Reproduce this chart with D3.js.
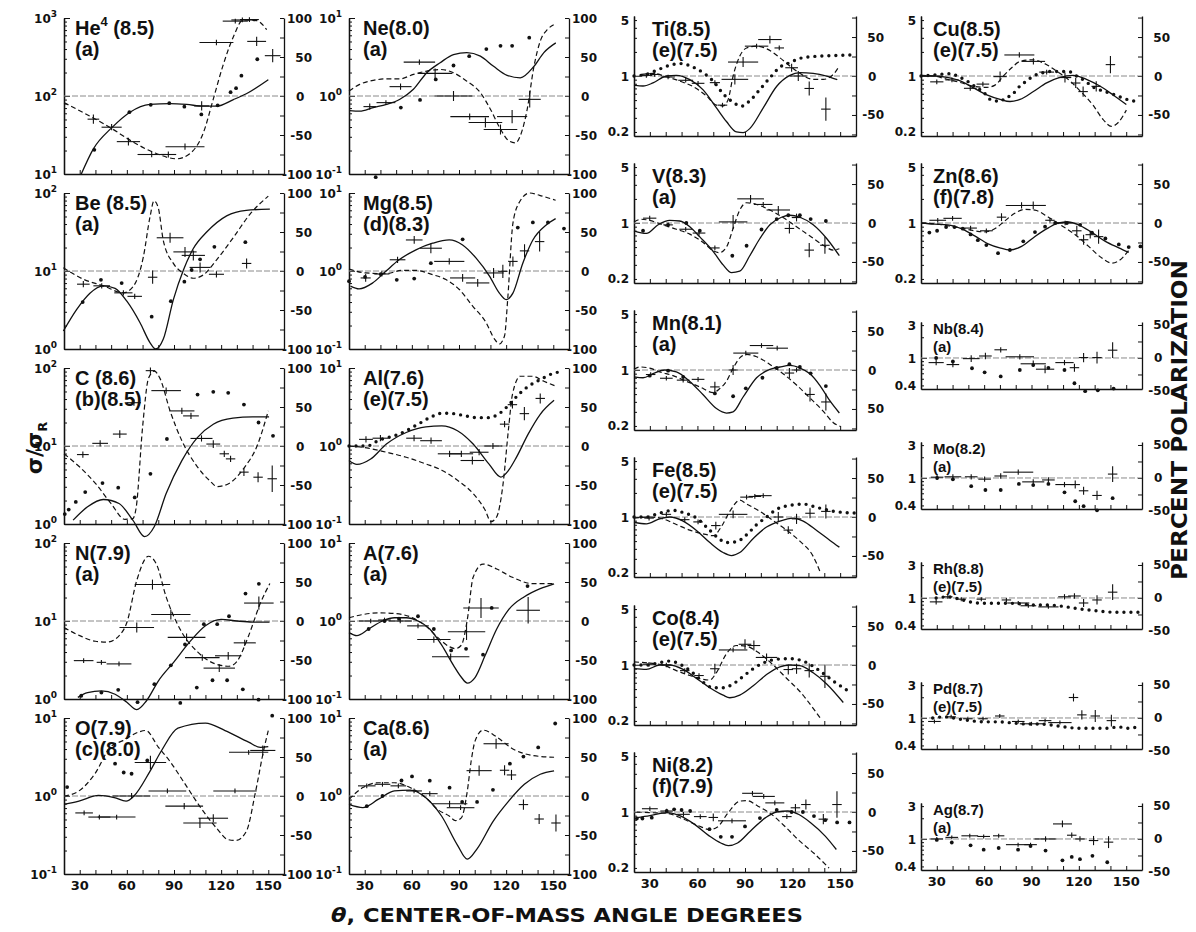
<!DOCTYPE html>
<html>
<head>
<meta charset="utf-8">
<script src="https://cdn.jsdelivr.net/npm/d3@7"></script>
<style>
  body { margin: 0; background: #fff; }
  svg { display: block; }
  text { font-family: "DejaVu Sans", sans-serif; font-weight: bold; fill: #111; }
  .lab { font-family: "Liberation Sans", Arial, sans-serif; }
</style>
</head>
<body>
<script>
// ---- tick labels ----
const angleTicks = [30, 40, 50, 60, 70, 80, 90, 100, 110, 120, 130, 140, 150];
const angleLabels = [30, 60, 90, 120, 150];
const polLabelsWide = ['100', '50', '0', '-50', '-100'];
const polValuesWide = [100, 50, 0, -50, -100];
const polLabelsBig = ['50', '0', '-50'];
const polValuesBig = [50, 0, -50];
const polTicksWide = [-100, -75, -50, -25, 0, 25, 50, 75, 100];
const polTicksBig = [-75, -50, -25, 0, 25, 50, 75];
const polTicksSmall = [-25, 0, 25, 50];
const sigmaLabelsBig = ['5', '1', '0.2'];
const sigmaValuesBig = [5, 1, 0.2];
const sigmaLabelsSmall = ['3', '1', '0.4'];
const sigmaValuesSmall = [3, 1, 0.4];

// ---- data: [angle, sigma/sigmaR] for curves & dots, [angle, P, halfwidth, error] for polarization ----
// He4
const heSolid = [[31,10],[38.7,21],[50.3,39],[62,62],[74.7,78],[87.5,80],[98,78],[108.7,74],[117,74],[127.8,90],[136,107],[150,162]];
const heDashed = [[20,-8.5],[32,-21],[49,-40],[64,-59],[79,-74],[91.7,-80.5],[100,-74],[108.7,-47],[115,-4],[121,38],[127.8,76],[134,97.5],[142.6,96.6],[149,85]];
const heDots = [[39.3,20.4],[61.6,62],[75.2,77],[87,81],[96.6,73],[107.4,58],[117.8,76],[126,112],[129.5,126],[132.9,182],[143,296]];
const hePol = [[38.7,-29.7,3.7,6],[50.3,-40,6.4,4],[61,-58.5,7.4,5],[75.8,-75,9,3.4],[86.4,-75,5,4],[97,-65,12.4,4],[107.6,-12.7,4.8,6],[117,68.6,10.8,3.4],[129,96,8,3],[133.5,97.5,7,3],[138,98,6,3],[142.6,70,6,6],[152.8,51.7,5,8.5]];
// Be
const beSolid = [[19.6,1.7],[28,3.2],[36.5,5.2],[45,6.45],[52.5,6.0],[60,4.1],[68.4,2.17],[74.7,1.21],[78.3,1.0],[83.2,1.34],[89.6,4.3],[96,10.3],[102.3,19.4],[110.8,31.6],[123.5,51],[136,60],[151,62]];
const beDashed = [[19.6,4.2],[32.3,-10.5],[45,-19],[57.8,-28],[64,-20],[70.5,18],[74.7,69],[77.3,90],[80,81],[83.2,39],[89.6,9.7],[96,-3],[102.3,-9.3],[108.7,-5],[117,14],[127.8,43],[138.4,73],[150,96]];
const beDots = [[31.9,4.0],[43.5,7.7],[56.7,7.0],[75.8,2.6],[88,4.1],[96.6,7.3],[101.2,10.3],[106.6,14.1],[115.7,20.4],[135.4,23.4]];
const bePol = [[32.3,-16.9,4,4],[44,-19,5.3,3.4],[57.8,-28,5.8,3.4],[65,-32.5,4.6,3.4],[76.4,-8,3,8.5],[87.5,42.6,8.5,6.4],[97,24.5,7.4,6.4],[102.3,20,7.4,6.4],[106.6,4.6,6.7,6.4],[117,-4.2,4.8,4],[136.2,9.7,3,6.4]];
// C
const cSolid = [[25.8,1.12],[35,1.66],[45,2.06],[55,1.83],[63.8,1.12],[71.3,0.69],[77.5,0.93],[85,2.46],[95,6.5],[105,12.9],[115,19],[127.5,22.7],[140,23.6],[150.5,23.6]];
const cDashed = [[20,-10],[30,-27],[40,-48],[50,-74],[58.8,-94],[63.8,-93],[66,-78],[70,24],[73.8,87],[77.5,96],[81,87],[87.5,45],[95,6.8],[105,-27],[112.5,-44],[117.5,-52],[125,-48],[135,-27],[142.5,-1.7],[150,45]];
const cDots = [[20.5,1.34],[23,1.53],[27.5,1.92],[33.5,2.57],[44.5,3.35],[54.5,2.92],[65,2.19],[75,4.4],[85.5,12.3],[105,45.7],[115,49.5],[124.5,48],[134.5,34],[143.8,20],[153,13.5]];
const cPol = [[32,-11,3.75,4],[43,3.4,5,4],[55.5,15.3,4.4,5],[64.5,55.5,4.4,4],[75,96.6,3,4],[85,71,9.4,4],[95,45,8,4],[100.8,38.6,5,4],[107.5,9.7,7,4],[115,2.5,4.4,5],[122,-10,3,4],[126,-16.5,3,4],[134.5,-33.5,3,5],[143.5,-40,3,6.4],[152.5,-42,3,17]];
// N
const nSolid = [[28.8,1.05],[35,1.21],[43.8,1.27],[52.5,1.15],[60,0.91],[66.3,0.73],[72.5,0.95],[80,1.7],[90,3.0],[100,5.4],[110,8.7],[120,10.5],[130,10],[140,9.7],[150.8,9.7]];
const nDashed = [[20,-8.3],[30,-18.8],[40,-26],[47.5,-27],[55,-19],[60,-2],[66.3,52],[73.8,83],[78.8,73],[85,31],[95,-14.6],[105,-39.6],[115,-54],[125,-58],[130,-52],[137.5,-18.8],[145,23],[151,48]];
const nDots = [[31,1.1],[43.8,1.21],[54.5,1.31],[66.8,0.91],[77.5,1.55],[88,2.7],[94,0.89],[97,5.0],[104.5,1.4],[109,9.1],[114.5,1.74],[117.5,9.1],[123.8,1.74],[125,11.5],[133.8,1.33],[135.5,22.5],[143.8,0.98],[144,30]];
const nPol = [[32.5,-50.8,6.25,3],[43.8,-53,3,3],[55,-55,7.9,3],[66.3,-8.3,11,6.4],[76.3,46.7,11.3,6.4],[88,8.3,12.5,6.4],[98,-21,12,5],[108,-47,11,4],[118.8,-60.4,10,5],[124.5,-44.6,8.4,5],[135,-28,7,4],[144,23,9.4,8.5]];
// O
const oSolid = [[20,0.78],[29.5,0.86],[42,1.02],[52,0.955],[59.5,0.86],[64.5,1.0],[74.5,2.04],[82,3.8],[92.5,7.4],[110,8.6],[122.5,6.9],[137.5,4.9],[145,4.2],[150,4.3]];
const oDashed = [[20,0],[29.5,6.5],[39.5,28],[49.5,62.7],[57.5,71],[67.5,82],[72,84],[80,62.7],[87,45.5],[97,15.5],[107,-15],[117,-41],[124.5,-56],[129.5,-57],[136,-45.5],[142,6.5],[147,58],[150,84]];
const oDots = [[22,1.3],[52.5,2.6],[58,2.0],[63,1.93],[73,2.85],[152.5,10.7]];
const oPol = [[32.8,-21.7,5.6,3],[42.5,-27,7,3],[53.5,-27,12,3],[63,0,12,4],[75,43,10,8.7],[85.8,6.5,12,3],[96.5,-13,12,4],[106.5,-34.6,10.6,6.5],[115,-28.5,9.4,5],[128.8,6.5,13.8,3],[137.5,56,12.5,3],[146.5,58.4,8,6.5]];
// Ne
const neSolid = [[20.4,0.65],[26.8,0.64],[35.4,0.71],[43.9,0.78],[52.4,0.91],[61,1.22],[69.5,1.99],[78,2.67],[86.5,3.4],[95,3.6],[103.6,3.24],[112,2.4],[120.6,1.84],[129,1.71],[137.7,2.4],[144,3.6],[151.6,4.8]];
const neDashed = [[20,6.4],[26.8,14.9],[35.4,20],[43.9,22],[52.4,22],[61,27.7],[69.5,32],[78,34],[86.5,29.8],[95,19],[103.6,4.3],[110,-17],[116.4,-42.5],[121.7,-57.4],[126,-60],[129,-51],[133.4,-17],[137.7,38],[142,72],[146.2,85],[151.6,92.8]];
const neDots = [[37,0.091],[53,0.71],[65.2,0.89],[75.2,1.63],[86.5,2.46],[96.5,3.24],[107.4,4.0],[116.4,4.4],[123.8,4.4],[134.7,5.6]];
const nePol = [[33.2,-13.6,4,4],[43.5,-8.5,6,3],[52.8,12,7,4],[64.8,43.4,10,3.4],[74.8,29,11,6.4],[86.5,0,12,6.4],[96.8,-26.4,12.3,4],[106.8,-34,10.7,6.4],[116.4,-43,10.7,6.4],[123.8,-26.4,9.6,8.5],[135,-4.3,7,10.6]];
// Mg
const mgSolid = [[21,0.64],[26.4,0.59],[34.9,0.70],[43.4,0.99],[51.9,1.39],[62.6,1.87],[73.2,2.27],[83.8,2.51],[92.3,2.16],[100.9,1.46],[109.4,0.86],[115.7,0.52],[120,0.43],[124.3,0.52],[130.6,1.26],[137,2.5],[145.5,3.9],[151.5,4.7]];
const mgDashed = [[20,2.5],[30.6,-2.5],[43.4,-3.4],[54,0.8],[62.6,0.8],[73.2,-4.7],[81.7,-11],[90.2,-23.7],[98.7,-45],[107.2,-66],[112.5,-87],[115.7,-93.6],[119,-83],[121,-36],[124.3,61],[128.5,88.5],[134.9,100],[141.3,97],[151.5,90.7]];
const mgDots = [[20,0.74],[30.2,0.84],[40.2,0.91],[50.4,0.77],[61.5,0.8],[72.1,1.26],[92.3,2.55],[127.4,3.6],[137,4.2],[146.6,4.2],[156.8,3.5]];
const mgPol = [[30.6,-8.9,3.2,5],[40.9,-3.8,4.8,3.4],[50.9,14.4,5,4],[61.5,39.8,5.3,5],[72.1,29.2,7,6.4],[83.8,12.3,9.6,4],[92.3,-8.9,8,5],[101.9,-15.3,7.4,5],[112,-2.5,6.4,6.4],[117.9,-0.4,3,8.5],[124.3,12.3,3,6.4],[131.7,25.8,3,8.5],[141.3,37.7,3,12.7]];
// Al
const alSolid = [[20,0.65],[25,0.58],[33.8,0.68],[43.8,1.06],[56.4,1.49],[68.9,1.76],[79,1.81],[89,1.57],[99,1.06],[109,0.59],[116.6,0.40],[121.6,0.49],[126.6,0.72],[134,1.42],[141.7,2.55],[150.5,3.85]];
const alDashed = [[20,0],[31.3,-2.5],[43.8,-8],[56.4,-14.4],[68.9,-23],[79,-31],[89,-44],[99,-61],[106.6,-82],[110.3,-97],[114,-90.7],[117.8,-52.5],[121.6,23.7],[124,66],[129,89.4],[136.7,89.4],[144,83],[151.7,76.7]];
const alDense = [[20,1.0],[26,1.0],[32.5,1.01],[36.3,1.11],[41.3,1.23],[48.9,1.35],[56.4,1.57],[63.9,1.9],[71.4,2.31],[79,2.63],[86.5,2.6],[94,2.43],[101.5,2.31],[109,2.31],[115,2.55],[120,3.1],[124,3.77],[129,4.8],[134,5.8],[141.7,7.1],[149,8.4],[156.7,9.1]];
const alPol = [[30.8,8.5,4.4,4],[40,10,5,4],[61.4,10,5,4],[72.2,6.8,6.9,4],[84,-10,7.5,4],[91.5,-10,7.5,4],[98.5,-18.6,7.5,5],[102.8,-8,6,4],[111.6,0,6,4],[119,28,3,4],[124,53,3,5],[131.6,41.5,3,8.5],[141.7,61,3,6.4]];
// A
const aSolid = [[20,0.71],[25,0.65],[32.5,0.79],[41.3,1.0],[48.9,1.1],[56.4,1.1],[63.9,1.0],[71.4,0.79],[79,0.49],[86.5,0.27],[91.5,0.19],[95.3,0.16],[100.3,0.19],[106.6,0.36],[114,0.79],[121.6,1.4],[131.6,2.05],[141.7,2.6],[150.5,3.0]];
const aDashed = [[20,4.2],[28.8,8.3],[38.8,10.4],[48.9,9.6],[58.9,5.4],[68.9,-6.25],[76.4,-21],[84,-33],[87.7,-35.4],[91.5,-31],[95.3,2],[99,56],[105.3,73],[114,66.7],[124,56],[136.7,48],[150.5,48]];
const aDots = [[32.5,0.79],[42.6,1.0],[51.8,1.07],[63.9,1.15],[74,0.79],[85,0.42],[94.5,0.44],[105.3,0.37],[110.8,1.47],[133.6,2.8]];
const aPol = [[33.8,0,7.5,3],[42.6,1.25,4,3],[52.6,0,7.5,3],[63.9,-6.25,6.9,3],[74,-23.75,10.6,4],[84.7,-45.8,11.9,4],[94.8,-13.75,11.9,10.6],[104,16.7,11.3,12.7],[134,13.75,7.5,17]];
// Ca
const caSolid = [[20,0.78],[28.8,0.71],[38.8,0.91],[48.9,1.16],[58.9,1.19],[68.9,0.95],[79,0.55],[89,0.235],[95.3,0.155],[101.5,0.21],[111.6,0.47],[121.6,0.86],[131.6,1.41],[141.7,1.9],[150.5,2.1]];
const caDashed = [[20,-4.3],[28.8,10.8],[38.8,17],[48.9,17],[58.9,10.8],[68.9,-2.2],[76.4,-17.3],[84,-26],[87.7,-31.6],[91.5,-28],[95.3,6.5],[97.8,45.5],[100.3,71],[105.3,84.4],[114,75.7],[124,60.6],[136.7,52],[150.5,49.7]];
const caDots = [[31.3,0.74],[41.3,1.0],[53.4,1.58],[60.1,1.78],[71.4,1.57],[84,1.28],[92,0.84],[101.5,0.84],[111.6,1.2],[122.4,2.6],[131,3.2],[140.4,4.2],[151.2,8.5]];
const caPol = [[31.3,13,5.6,3],[41.3,15,5,3],[51.4,13,5,3],[61.4,6.5,5,3],[71.4,3,5,3],[84,-10,11.3,4],[91,-15,8.8,3],[102.8,32.5,8,6.5],[113.6,67,8,6.5],[119,33,3,6.5],[123.4,27,3,6.5],[131,-11,3,6.5],[141,-29.5,3,6.5],[151.7,-34.6,3,11]];
// Ti
const tiSolid = [[20,0.77],[25.7,0.75],[32,0.82],[40.4,1.0],[46.7,1.02],[55.2,0.9],[63.6,0.67],[72,0.4],[78.3,0.27],[84.6,0.2],[88.8,0.196],[93,0.22],[101.5,0.4],[109.9,0.74],[118.3,1.02],[124.6,1.1],[133,1.08],[141.5,1.0],[148.2,0.9]];
const tiDashed = [[24.6,2],[32,3.4],[40.4,-1],[48.8,-6.4],[57.3,-13.6],[65.7,-25.5],[72,-37.4],[76.2,-38.3],[79.4,-30],[82.5,0],[86.7,25.5],[91,36],[97.3,38.3],[103.6,35],[112,23.4],[118.3,12.8],[124.6,3.4],[133,-4.3],[139.4,-4.3],[145.7,2],[148.8,10.6]];
const tiDense = [[20,1.0],[27.8,1.05],[35.2,1.2],[42.5,1.36],[49.9,1.43],[57.3,1.29],[63.6,1.1],[70,0.86],[76.2,0.6],[82.5,0.47],[87.8,0.42],[93,0.49],[99.4,0.68],[105.7,0.95],[112,1.29],[118.3,1.47],[124.6,1.66],[133,1.75],[145.7,1.8],[159.4,1.84]];
const tiPol = [[27.8,0.8,3.7,3],[33,2,3,3],[41.5,-1.3,4.2,3],[52.6,-5.5,4.7,3],[60.4,-9.4,4,3],[71,-8.5,3.2,3],[75.8,-37.4,3,3],[83.6,-4.3,8.4,6.5],[88.8,17.9,9.5,6.5],[97.3,38.3,7.4,3],[105.7,46.8,7.4,5],[111.6,36,3,3],[119.4,10.6,4,5],[123.6,0,5.3,6.5],[130.5,-16,3,9],[141,-42.5,3,15]];
// V
const vSolid = [[20,0.8],[27.8,0.74],[35.2,0.95],[42.5,1.08],[48.8,1.06],[55.2,0.9],[61.5,0.67],[70,0.44],[76.2,0.3],[81.5,0.24],[86.7,0.25],[93,0.39],[99.4,0.64],[105.7,0.95],[113,1.18],[118.3,1.25],[124.6,1.18],[133,0.95],[141.5,0.64],[149.5,0.39]];
const vDashed = [[20,1.4],[24.6,4.8],[29.9,3.3],[38.3,-2.4],[46.7,-8],[55.2,-14.3],[63.6,-25],[70,-35.7],[74,-38],[78.3,-31],[82.5,-7],[86.7,16.7],[91,26],[97.3,23.8],[105.7,16.7],[114,7],[122.5,-4.8],[131,-16.7],[139.4,-28.6],[145.7,-34.8],[149.5,-33]];
const vDots = [[25.7,0.8],[41.5,0.95],[53,1.0],[61.5,0.8],[82,0.39],[91,0.52],[100.4,0.83],[110,1.12],[117.3,1.25],[124.6,1.25],[131.4,1.12],[141,1.06]];
const vPol = [[29.9,6.2,4.2,3],[41.5,-2.4,3,3],[52.6,-8,4,3],[61,-12.9,4,3],[71,-32,3,3],[82.5,1.4,9,9],[93.5,31,8.4,5],[101.5,23.8,5.8,3],[111,16.7,7.4,5],[118,-7,3,6.5],[122.5,7,3,5],[130.5,-34.8,3,9],[140.4,-28.6,3,11]];
// Mn
const mnSolid = [[20,0.82],[25.7,0.8],[32,0.9],[39.4,1.0],[46.7,0.95],[55.2,0.72],[63.6,0.49],[72,0.33],[78.3,0.29],[82.5,0.3],[88.8,0.46],[97.3,0.8],[105.7,1.02],[112,1.09],[118.3,1.14],[124.6,1.06],[131,0.9],[137.3,0.64],[143.6,0.41],[149.5,0.29]];
const mnDashed = [[20,1],[23.6,3.9],[29.9,2.4],[36.2,-2.4],[44.6,-7.2],[53,-14.5],[61.5,-21.7],[70,-29],[74,-24],[78.3,-14.5],[82.5,2.4],[86.7,15.5],[91,20],[97.3,17],[105.7,7.2],[114,-4.8],[122.5,-19.3],[131,-36],[139.4,-53],[145.7,-67.6],[150.3,-72.5]];
const mnDots = [[29.9,0.85],[41.5,0.98],[51,0.82],[71,0.51],[82.5,0.47],[90.5,0.59],[101,0.8],[110,1.06],[118,1.18],[124.6,1.09],[131.4,0.91],[141,0.63]];
const mnPol = [[30.5,-5.8,3,3],[40.4,-10.6,4,3],[51,-13,4,3],[60.4,-12,4,3],[71,-21.7,3,6.5],[82.5,0,3,6.5],[90.5,21.7,7.9,3],[100.4,31.4,7.4,3],[110.3,28,6.8,3],[118,-3.9,3,6.5],[122.5,0,3,3],[131,-31.4,3,9],[141,-41,3,11]];
const mnPolLabels = ['50', '0', '50'];
// Fe
const feSolid = [[20,0.86],[27.8,0.82],[36.2,0.95],[42.5,1.0],[51,0.89],[59.4,0.68],[67.8,0.48],[76.2,0.36],[81.5,0.33],[86.7,0.36],[95.2,0.54],[103.6,0.75],[112,0.89],[120.4,0.97],[126.7,0.89],[135.2,0.68],[143.6,0.51],[149.5,0.42]];
const feDashed = [[20,-1.4],[29.9,0],[38.3,-2.4],[46.7,-9.6],[55.2,-16.8],[63.6,-21.6],[70,-24],[75.2,-12],[80.4,7.2],[86.7,21.6],[91,16.8],[99.4,7.2],[107.8,-4.8],[116.2,-16.8],[124.6,-31],[133,-50.5],[137.3,-70]];
const feDense = [[20,1.0],[27.8,1.0],[36.2,1.12],[44.6,1.21],[52,1.12],[59.4,0.97],[65.7,0.75],[72,0.57],[78.3,0.48],[84.6,0.49],[91,0.6],[97.3,0.8],[103.6,1.0],[110,1.25],[118.3,1.4],[126.7,1.45],[135.2,1.32],[145.7,1.18],[159.4,1.12]];
const fePol = [[29.5,-1.4,3,3],[40.4,3.4,3,3],[52,-3.4,3,3],[60.4,-6.3,3,3],[71.6,-11,3,5],[82.5,3.4,9,5],[91,25.5,4,3],[96.2,26.4,4,3],[101.5,27.4,5.3,3],[111,0,3,6.5],[117.3,-16.8,3,5],[122.5,-2.4,3,6.5],[131,4.8,3,6.5],[141,7.2,3,9]];
// Co
const coSolid = [[20,0.9],[27.8,0.88],[36.2,1.0],[42.5,1.0],[51,0.88],[59.4,0.68],[67.8,0.52],[76.2,0.42],[80.4,0.39],[86.7,0.42],[95.2,0.55],[103.6,0.76],[112,0.95],[118.3,1.0],[124.6,0.98],[133,0.8],[141.5,0.58],[152,0.34]];
const coDashed = [[20,3.9],[29.9,2.4],[38.3,0],[46.7,-7.2],[55.2,-13.5],[63.6,-18.4],[67.8,-19.3],[72,-9.7],[78.3,14.5],[84.6,25],[91,24],[99.4,14.5],[107.8,0],[116.2,-17],[124.6,-34],[133,-55.6],[137.3,-67.6]];
const coDense = [[20,1.0],[27.8,1.0],[35.2,1.06],[42.5,1.12],[49.9,1.0],[57.3,0.79],[63.6,0.61],[70,0.52],[76.2,0.52],[82.5,0.58],[88.8,0.72],[95.2,0.9],[101.5,1.06],[110,1.18],[118.3,1.2],[126.7,1.12],[135.2,0.9],[146.7,0.61],[154,0.49]];
const coPol = [[29.5,1,4,3],[40.4,0,3,3],[52,-7.2,3,3],[61,-13.5,3,3],[71,-4.8,3,6.5],[82.5,19.3,9,3],[90,26.6,4,6.5],[95.6,25,4,6.5],[103.6,9.7,6.8,5],[117.3,-5.8,3,6.5],[122.5,-4.8,3,6.5],[130.5,-7.2,3,9],[140.4,-14.5,3,15]];
// Ni
const niSolid = [[21.8,0.85],[30,0.9],[40.6,0.98],[48.8,0.9],[58.2,0.7],[67.6,0.5],[74.7,0.41],[79.4,0.38],[85.3,0.41],[93.5,0.58],[103,0.85],[110,1.0],[117,1.03],[124,0.93],[131.2,0.74],[140.6,0.5],[147.6,0.34]];
const niDashed = [[21.8,0],[30,-0.8],[40.6,-1.7],[51.2,-9.2],[60.6,-17.6],[67.6,-22.6],[72.4,-19.7],[79.4,-0.8],[86.5,13.8],[91.2,14.6],[98.2,7.5],[105.3,-0.8],[114.7,-17.6],[124,-36.4],[133.5,-53],[143,-72]];
const niDots = [[21.8,0.83],[25.3,0.83],[31.2,0.85],[40.6,1.03],[45.3,1.08],[50,1.06],[55.4,1.03],[67.6,0.61],[74.7,0.49],[81.8,0.49],[90,0.66],[99.4,0.84],[110,1.06],[119.4,1.0],[126.5,1.0],[133.5,0.89],[140.6,0.79],[148.1,0.74],[155.9,0.74]];
const niPol = [[30,4.2,5,3],[40.6,1.25,4,3],[51.2,-3,4,3],[61.8,-5.9,4,3],[70,-7,3,5],[81.8,-11.3,8.8,3],[94.7,24,6.5,3],[101.8,20,7,3],[108.8,11.7,6,3],[116.4,-5.9,3,3],[121.8,5.4,3,5],[128.4,9.6,3,6.5],[139.4,-9.2,3,6.5],[148,9.6,3,17]];
// Cu
const cuSolid = [[20,1.0],[28,1.0],[36.4,0.96],[44.8,0.87],[53.3,0.71],[61.7,0.58],[70.1,0.51],[76.4,0.48],[82.7,0.51],[91.2,0.64],[99.6,0.82],[108,0.96],[116.4,1.02],[124.8,0.91],[133.3,0.75],[141.7,0.58],[150.1,0.44]];
const cuDashed = [[20,0.8],[28,0],[36.4,-4.2],[44.8,-8.3],[53.3,-13.3],[61.7,-14.6],[66.9,-11.7],[72.2,0],[78.5,12.5],[82.7,18.75],[91.2,20.8],[97.5,16.7],[105.9,6.25],[114.3,-6.25],[120.6,-18.75],[129,-37.5],[135.4,-56],[140.6,-64.6],[144.8,-60],[150.1,-43.75]];
const cuDense = [[20,1.0],[25.9,1.02],[32.2,1.05],[38.5,1.07],[43.8,0.98],[49,0.87],[55.4,0.71],[59.6,0.63],[63.8,0.51],[67,0.49],[70.1,0.48],[73.3,0.53],[77.5,0.58],[82.7,0.75],[87,0.87],[91.2,1.0],[95.4,1.07],[101.7,1.14],[108,1.14],[113.3,1.14],[118.5,1.0],[123.8,0.87],[129,0.73],[133.3,0.67],[139.6,0.61],[143.8,0.57],[149,0.52],[156.4,0.48]];
const cuPol = [[30,-7.5,4.2,3],[39.6,-5,4.2,3],[51.2,-15.8,4,3],[59.2,-10.4,4,3],[70.1,-0.8,4.2,6.5],[82.3,27,9.5,3.4],[91.2,18.75,7.4,4],[99.6,5,4.7,3],[111.2,-2,4,6.5],[118,-9,3,6.5],[122.7,-20,3,6.5],[131,-13.3,3,6.5],[140,14.6,3,11]];
// Zn
const znSolid = [[20,1.0],[28.5,0.97],[37,0.95],[45.5,0.85],[54,0.69],[62.5,0.55],[69.9,0.49],[76.3,0.46],[83.7,0.51],[92.2,0.68],[100.7,0.87],[107,1.0],[113.4,1.03],[119.8,0.95],[128.3,0.76],[136.8,0.59],[145.3,0.49],[151.6,0.43]];
const znDashed = [[20,0],[28.5,-1],[37,-3.5],[45.5,-6.5],[54,-10],[60.3,-11.5],[66.7,-7.5],[73,2.5],[79.4,12.5],[85.8,17.5],[92.2,16.5],[100.7,7.5],[109.2,-3.5],[117.7,-15],[126.2,-30],[134.6,-45],[141,-51.5],[145.3,-48.5],[151.6,-35]];
const znDots = [[25.3,0.76],[30.2,0.8],[35.9,0.89],[41.2,0.89],[46.5,0.85],[51.4,0.72],[56,0.61],[61.4,0.53],[68.8,0.42],[76.3,0.46],[84.8,0.59],[92.2,0.77],[98.6,0.9],[105,1.0],[112.4,1.0],[120.8,0.95],[128.3,0.76],[136.8,0.64],[145.3,0.54],[151.6,0.5],[159,0.51]];
const znPol = [[30.6,3.5,5.3,3],[40,6,5.8,3],[51.4,-6.5,4,3],[61.4,-10,4,3],[71,7.5,3,5],[83.7,22.5,10,4],[91.1,22.5,8,5],[101.7,3.5,3,3],[111.3,0,4.8,3],[118.7,-10,3,6.5],[123,-21.5,3,6.5],[127.2,-15,3,5],[132.5,-17.5,3,9]];
// Nb
const nbDots = [[29.6,1.0],[40.2,0.89],[52.3,0.71],[60.3,0.62],[70.5,0.54],[82.6,0.67],[91.1,0.79],[100.7,0.72],[110.9,0.67],[117.2,0.43],[124,0.33],[132,0.34],[142,0.36]];
const nbPol = [[29.6,-7,4.8,4],[40.2,-10,4,4],[51.8,-1,5.3,5],[60.8,3,4,5],[70.5,12.4,4,4],[82.6,1.8,9,4],[91.1,-8.8,8,5],[98.6,-17,5.8,6],[110.9,-7,5.8,4],[117.2,-14.7,3,6],[123,0.6,3,7],[131.5,0.6,3,9],[141.4,11.8,3,12]];
// Mo
const moDots = [[30.2,1.0],[40.2,0.96],[51.8,0.76],[60.8,0.67],[70.5,0.67],[82,0.82],[91.1,0.79],[100.7,0.82],[110.9,0.62],[117.7,0.46],[123,0.39],[131.5,0.34],[141.4,0.51]];
const moPol = [[30.2,1.2,4,4],[40.2,1.8,5.3,4],[51.8,1.8,4,4],[60.3,-1.8,4,4],[70.5,3,4,4],[81.6,8.8,9.5,4],[91.1,-5.9,7,4],[100.7,-3,4,4],[110.9,-10,5.8,4],[117.7,-10,3,6],[123,-19.4,3,6],[131.5,-26.5,3,7],[141.4,5.9,3,12]];
// Rh
const rhDense = [[29.6,1.0],[37,1.04],[44.4,0.96],[51.8,0.87],[58.2,0.84],[66.7,0.84],[75.2,0.84],[83.7,0.82],[92.2,0.79],[100.7,0.79],[109.2,0.76],[117.7,0.71],[126.2,0.67],[134.6,0.64],[143.1,0.62],[153.8,0.62],[160,0.62]];
const rhPol = [[29.6,-5.9,4,4],[37,1.8,3,3],[45.5,-1.8,3,3],[58.2,-1.8,3,3],[74.1,-3,3,3],[81.6,-7.6,7,3],[88,-11.8,5,3],[100.7,-13.5,6.4,3],[110.9,1.8,4,4],[117.2,3,4,4],[123,-7.6,3,6],[131.5,-3,3,7],[141.4,8.8,3,12]];
// Pd
const pdDense = [[27.4,1.0],[34.9,1.04],[43.4,0.97],[51.8,0.91],[60.3,0.88],[68.8,0.88],[77.3,0.85],[85.8,0.82],[94.3,0.82],[102.8,0.79],[111.3,0.74],[119.8,0.71],[128.3,0.71],[136.8,0.71],[145.3,0.74],[151.6,0.71],[159,0.77]];
const pdPol = [[28.5,-5.3,4,3],[39.1,1.8,3,3],[49.7,-1.2,3,3],[59.3,-1.2,3,3],[69.9,3,3,3],[81.6,-5.3,4,3],[90,-8.8,7.4,3],[98.6,-4,4,3],[108,-7,7.4,3],[116.6,31,3,6],[121.9,4.7,3,7],[130.4,3,3,9],[140.6,-4,3,9]];
// Ag
const agDots = [[30,0.97],[39.5,0.89],[51.4,0.81],[59.7,0.7],[69.2,0.74],[81.5,0.7],[89.4,0.79],[98.9,0.68],[109.6,0.49],[115.5,0.55],[120.7,0.51],[128.6,0.57],[138,0.46]];
const agPol = [[30,0,4,3],[39.5,2.4,4,3],[50.9,4.8,5.3,3],[59.7,3.8,4,3],[69.2,4.8,3.6,3],[81.5,-8.6,7.7,3],[89.4,-8.6,4,3],[98.9,0,7,4],[109.6,22.8,6,5],[115.5,5.7,3,4],[120.7,0,3,4],[129.3,-2.4,3,7],[138.8,-4.8,3,9]];

// ---- layout ----
const colX = [64, 349, 634, 921];
const colW = [220, 220, 222, 221];
const labDx = [11, 14, 18, 12];
const kinds = {
  wide:  { h: 156, pol: [-100, 100] },
  big:   { h: 120, sig: [0.178, 5.62], pol: [-77, 77] },
  small: { h: 67,  sig: [0.355, 3.33], pol: [-47, 54.5] }
};

const panels = [
  { name: 'He', sup: '4', rest: ' (8.5)', sub: '(a)', col: 0, top: 18, kind: 'wide', lo: 1, solid: heSolid, dashed: heDashed, dots: heDots, pol: hePol },
  { name: 'Be (8.5)', sub: '(a)', col: 0, top: 193, kind: 'wide', lo: 0, solid: beSolid, dashed: beDashed, dots: beDots, pol: bePol },
  { name: 'C (8.6)', sub: '(b)(8.5)', col: 0, top: 368, kind: 'wide', lo: 0, solid: cSolid, dashed: cDashed, dots: cDots, pol: cPol },
  { name: 'N(7.9)', sub: '(a)', col: 0, top: 543, kind: 'wide', lo: 0, solid: nSolid, dashed: nDashed, dots: nDots, pol: nPol },
  { name: 'O(7.9)', sub: '(c)(8.0)', col: 0, top: 718, kind: 'wide', lo: -1, solid: oSolid, dashed: oDashed, dots: oDots, pol: oPol, axis: true },
  { name: 'Ne(8.0)', sub: '(a)', col: 1, top: 18, kind: 'wide', lo: -1, solid: neSolid, dashed: neDashed, dots: neDots, pol: nePol },
  { name: 'Mg(8.5)', sub: '(d)(8.3)', col: 1, top: 193, kind: 'wide', lo: -1, solid: mgSolid, dashed: mgDashed, dots: mgDots, pol: mgPol },
  { name: 'Al(7.6)', sub: '(e)(7.5)', col: 1, top: 368, kind: 'wide', lo: -1, solid: alSolid, dashed: alDashed, dense: alDense, pol: alPol },
  { name: 'A(7.6)', sub: '(a)', col: 1, top: 543, kind: 'wide', lo: -1, solid: aSolid, dashed: aDashed, dots: aDots, pol: aPol },
  { name: 'Ca(8.6)', sub: '(a)', col: 1, top: 718, kind: 'wide', lo: -1, solid: caSolid, dashed: caDashed, dots: caDots, pol: caPol, axis: true },
  { name: 'Ti(8.5)', sub: '(e)(7.5)', col: 2, top: 16, kind: 'big', solid: tiSolid, dashed: tiDashed, dense: tiDense, pol: tiPol },
  { name: 'V(8.3)', sub: '(a)', col: 2, top: 163, kind: 'big', solid: vSolid, dashed: vDashed, dots: vDots, pol: vPol },
  { name: 'Mn(8.1)', sub: '(a)', col: 2, top: 310, kind: 'big', solid: mnSolid, dashed: mnDashed, dots: mnDots, pol: mnPol, polLabels: mnPolLabels },
  { name: 'Fe(8.5)', sub: '(e)(7.5)', col: 2, top: 457, kind: 'big', solid: feSolid, dashed: feDashed, dense: feDense, pol: fePol },
  { name: 'Co(8.4)', sub: '(e)(7.5)', col: 2, top: 605, kind: 'big', solid: coSolid, dashed: coDashed, dense: coDense, pol: coPol },
  { name: 'Ni(8.2)', sub: '(f)(7.9)', col: 2, top: 752, kind: 'big', solid: niSolid, dashed: niDashed, dots: niDots, pol: niPol, axis: true },
  { name: 'Cu(8.5)', sub: '(e)(7.5)', col: 3, top: 16, kind: 'big', solid: cuSolid, dashed: cuDashed, dense: cuDense, pol: cuPol },
  { name: 'Zn(8.6)', sub: '(f)(7.8)', col: 3, top: 163, kind: 'big', solid: znSolid, dashed: znDashed, dots: znDots, pol: znPol },
  { name: 'Nb(8.4)', sub: '(a)', col: 3, top: 322, kind: 'small', dots: nbDots, pol: nbPol },
  { name: 'Mo(8.2)', sub: '(a)', col: 3, top: 442, kind: 'small', dots: moDots, pol: moPol },
  { name: 'Rh(8.8)', sub: '(e)(7.5)', col: 3, top: 562, kind: 'small', dense: rhDense, pol: rhPol },
  { name: 'Pd(8.7)', sub: '(e)(7.5)', col: 3, top: 682, kind: 'small', dense: pdDense, pol: pdPol },
  { name: 'Ag(8.7)', sub: '(a)', col: 3, top: 803, kind: 'small', dots: agDots, pol: agPol, axis: true }
];

const svg = d3.select('body').append('svg').attr('width', 1196).attr('height', 932);

function styleAxis(sel) {
  sel.select('.domain').attr('stroke', '#111').attr('stroke-width', 1.3);
  sel.selectAll('.tick line').attr('stroke', '#111').attr('stroke-width', 1);
  sel.selectAll('.tick text').remove();
}

panels.forEach(p => {
  const k = kinds[p.kind];
  const x0 = colX[p.col], x1 = x0 + colW[p.col];
  const top = p.top, bottom = top + k.h;
  const x = d3.scaleLinear().domain([20, 160]).range([x0, x1]);
  const sigDom = p.kind === 'wide' ? [Math.pow(10, p.lo), Math.pow(10, p.lo + 2)] : k.sig;
  const y = d3.scaleLog().domain(sigDom).range([bottom, top]);
  const yp = d3.scaleLinear().domain(k.pol).range([bottom, top]);
  const g = svg.append('g');

  // frame and ticks
  g.append('g').attr('transform', `translate(0,${bottom})`)
    .call(d3.axisBottom(x).tickValues(angleTicks).tickSize(-4).tickSizeOuter(0).tickFormat(''))
    .call(styleAxis);
  const logTicks = y.ticks();
  const isMajor = v => Math.abs(Math.log10(v) - Math.round(Math.log10(v))) < 1e-6;
  g.append('g').attr('transform', `translate(${x0},0)`)
    .call(d3.axisLeft(y).tickValues(logTicks.filter(v => !isMajor(v))).tickSize(-3).tickSizeOuter(0).tickFormat(''))
    .call(styleAxis);
  g.append('g').attr('transform', `translate(${x0},0)`)
    .call(d3.axisLeft(y).tickValues(logTicks.filter(isMajor)).tickSize(-6).tickSizeOuter(0).tickFormat(''))
    .call(styleAxis);
  const pTicks = p.kind === 'wide' ? polTicksWide : (p.kind === 'big' ? polTicksBig : polTicksSmall);
  g.append('g').attr('transform', `translate(${x1},0)`)
    .call(d3.axisRight(yp).tickValues(pTicks).tickSize(-4).tickSizeOuter(0).tickFormat(''))
    .call(styleAxis);

  // zero polarization reference line
  g.append('line').attr('x1', x0).attr('x2', x1).attr('y1', yp(0)).attr('y2', yp(0))
    .attr('stroke', '#8a8a8a').attr('stroke-width', 1).attr('stroke-dasharray', '6 2');

  // left labels
  if (p.kind === 'wide') {
    [p.lo + 2, p.lo + 1, p.lo].forEach(e => {
      const t = g.append('text').attr('x', x0 - 7).attr('y', y(Math.pow(10, e)) + 5)
        .attr('text-anchor', 'end').attr('font-size', 12);
      t.append('tspan').text('10');
      t.append('tspan').attr('dy', -6).attr('font-size', 9).text(String(e));
    });
  } else {
    const vals = p.kind === 'big' ? sigmaValuesBig : sigmaValuesSmall;
    const labs = p.kind === 'big' ? sigmaLabelsBig : sigmaLabelsSmall;
    vals.forEach((v, i) => {
      g.append('text').attr('x', x0 - 5).attr('y', y(v) + 4.5)
        .attr('text-anchor', 'end').attr('font-size', 12).text(labs[i]);
    });
  }
  // right labels
  const pVals = p.kind === 'wide' ? polValuesWide : polValuesBig;
  const pLabs = p.polLabels || (p.kind === 'wide' ? polLabelsWide : polLabelsBig);
  pVals.forEach((v, i) => {
    const zero = v === 0;
    g.append('text').attr('x', zero ? x1 + 12 : x1 + 28).attr('y', yp(v) + 4.5)
      .attr('text-anchor', zero ? 'start' : 'end').attr('font-size', 12).text(pLabs[i]);
  });

  // panel label
  const fs = p.kind === 'small' ? 15 : 20;
  const b1 = p.kind === 'small' ? 12 : (p.kind === 'big' ? 20 : 17);
  const b2 = p.kind === 'small' ? 30 : (p.kind === 'big' ? 41 : 38);
  const lt = g.append('text').attr('class', 'lab').attr('x', x0 + labDx[p.col]).attr('y', top + b1).attr('font-size', fs);
  lt.append('tspan').text(p.name);
  if (p.sup) {
    lt.append('tspan').attr('dy', -9).attr('font-size', 13).text(p.sup);
    lt.append('tspan').attr('dy', 9).text(p.rest);
  }
  g.append('text').attr('class', 'lab').attr('x', x0 + labDx[p.col]).attr('y', top + b2).attr('font-size', fs).text(p.sub);

  // theory curves
  const lineS = d3.line().x(d => x(d[0])).y(d => y(d[1])).curve(d3.curveMonotoneX);
  const lineP = d3.line().x(d => x(d[0])).y(d => yp(d[1])).curve(d3.curveMonotoneX);
  if (p.solid) g.append('path').attr('d', lineS(p.solid)).attr('fill', 'none').attr('stroke', '#111').attr('stroke-width', 1.3);
  if (p.dashed) g.append('path').attr('d', lineP(p.dashed)).attr('fill', 'none').attr('stroke', '#111')
    .attr('stroke-width', 1.2).attr('stroke-dasharray', '5 3');

  // measured cross sections
  if (p.dense) g.append('path').attr('d', lineS(p.dense)).attr('fill', 'none').attr('stroke', '#111')
    .attr('stroke-width', 3.4).attr('stroke-linecap', 'round').attr('stroke-dasharray', '0 7');
  if (p.dots) g.selectAll('circle.dot').data(p.dots).enter().append('circle').attr('class', 'dot')
    .attr('cx', d => x(d[0])).attr('cy', d => y(d[1])).attr('r', 1.9).attr('fill', '#111');

  // measured polarization with error bars
  const pg = g.selectAll('g.pol').data(p.pol).enter().append('g').attr('class', 'pol')
    .attr('stroke', '#111').attr('stroke-width', 1.1);
  pg.append('line').attr('x1', d => x(d[0] - d[2])).attr('x2', d => x(d[0] + d[2]))
    .attr('y1', d => yp(d[1])).attr('y2', d => yp(d[1]));
  pg.append('line').attr('x1', d => x(d[0])).attr('x2', d => x(d[0]))
    .attr('y1', d => yp(d[1] - d[3])).attr('y2', d => yp(d[1] + d[3]));

  // angle labels on the lowest row
  if (p.axis) {
    angleLabels.forEach(a => {
      g.append('text').attr('x', x(a)).attr('y', bottom + 16).attr('text-anchor', 'middle')
        .attr('font-size', 13).text(a);
    });
  }
});

// axis titles
const xt = svg.append('text').attr('x', 567).attr('y', 922).attr('text-anchor', 'middle')
  .attr('font-size', 19).attr('textLength', 472).attr('lengthAdjust', 'spacingAndGlyphs');
xt.append('tspan').attr('font-style', 'italic').text('θ');
xt.append('tspan').text(', CENTER-OF-MASS ANGLE DEGREES');

svg.append('text').attr('transform', 'translate(1187,420) rotate(-90)').attr('text-anchor', 'middle')
  .attr('font-size', 21).attr('textLength', 320).attr('lengthAdjust', 'spacingAndGlyphs')
  .text('PERCENT POLARIZATION');

const yt = svg.append('text').attr('transform', 'translate(42,448) rotate(-90)').attr('text-anchor', 'middle')
  .attr('font-size', 22);
yt.append('tspan').text('σ/σ');
yt.append('tspan').attr('dy', 5).attr('font-size', 13).text('R');
</script>
</body>
</html>
